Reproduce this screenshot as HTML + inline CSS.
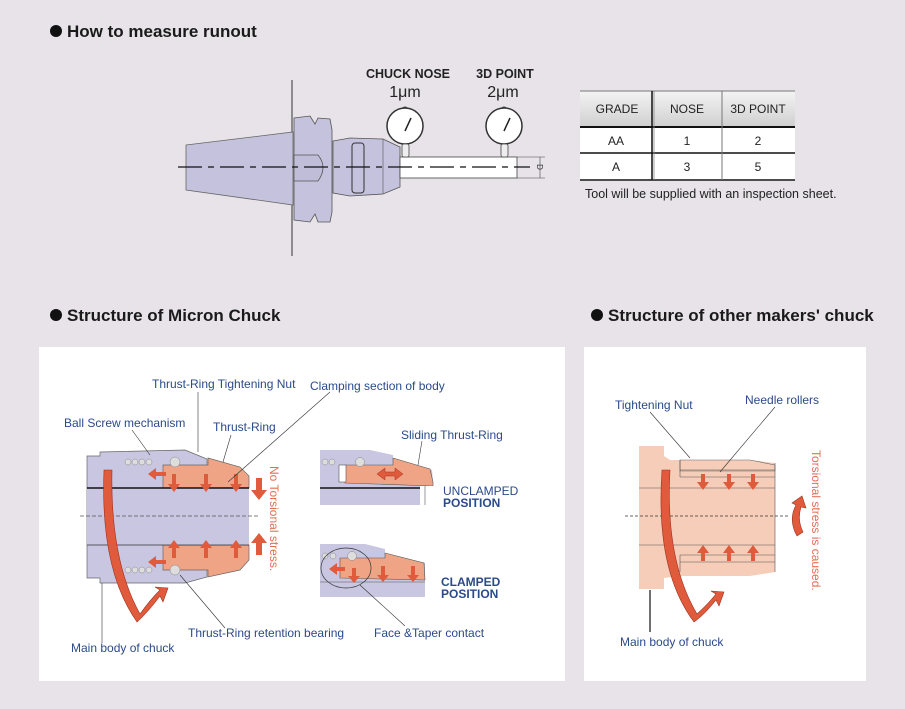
<!DOCTYPE html>
<html><head><meta charset="utf-8"><style>
body{margin:0;background:#e7e3e9;}
svg{display:block;font-family:"Liberation Sans",sans-serif;}
</style></head><body>
<svg width="905" height="709" viewBox="0 0 905 709" xmlns="http://www.w3.org/2000/svg">
<rect width="905" height="709" fill="#e7e3e9"/>
<!-- headings -->
<circle cx="56" cy="31" r="6" fill="#111"/>
<text x="67" y="37" font-size="17" font-weight="bold" fill="#1a1a1a">How to measure runout</text>
<circle cx="56" cy="315" r="6" fill="#111"/>
<text x="67" y="321" font-size="17" font-weight="bold" fill="#1a1a1a">Structure of Micron Chuck</text>
<circle cx="597" cy="315" r="6" fill="#111"/>
<text x="608" y="321" font-size="17" font-weight="bold" fill="#1a1a1a">Structure of other makers' chuck</text>

<!-- top diagram -->
<line x1="292" y1="80" x2="292" y2="256" stroke="#333" stroke-width="1"/>
<polygon points="186,145 293,132 293,205 186,190" fill="#c4c2dc" stroke="#666" stroke-width="0.8"/>
<path d="M294,118 L310,116 L315,124 L318,118 L330,119 L332,130 L332,212 L330,222 L318,222 L315,214 L310,222 L294,220 Z" fill="#c4c2dc" stroke="#555" stroke-width="0.8"/>
<path d="M294,155 L318,155 Q328,167 318,181 L294,181 Z" fill="#bfbdd8" stroke="#555" stroke-width="0.8"/>
<path d="M333,141 L350,138 L383,139 L400,147 L400,187 L383,194 L350,196 L333,193 Z" fill="#c4c2dc" stroke="#555" stroke-width="0.8"/>
<line x1="383" y1="139" x2="383" y2="194" stroke="#555" stroke-width="0.6"/>
<rect x="352" y="143" width="12" height="50" rx="3" fill="none" stroke="#333" stroke-width="1"/>
<rect x="400" y="157" width="117" height="21" fill="#fff" stroke="#444" stroke-width="0.8"/>
<line x1="178" y1="167" x2="530" y2="167" stroke="#111" stroke-width="1.2" stroke-dasharray="24,6,6,6"/>
<line x1="517" y1="157" x2="545" y2="157" stroke="#444" stroke-width="0.6"/>
<line x1="517" y1="178" x2="545" y2="178" stroke="#444" stroke-width="0.6"/>
<line x1="540" y1="157" x2="540" y2="178" stroke="#444" stroke-width="0.6"/>
<text x="537" y="167" font-size="8" transform="rotate(90 537 167)" text-anchor="middle" fill="#333">D</text>
<g>
<circle cx="405" cy="110" r="3" fill="#ddd" stroke="#444"/>
<circle cx="405" cy="126" r="18" fill="#fff" stroke="#333" stroke-width="1.5"/>
<line x1="405" y1="131" x2="411" y2="118" stroke="#222" stroke-width="1.5"/>
<rect x="402" y="144" width="7" height="13" rx="2" fill="#eee" stroke="#444" stroke-width="0.8"/>
<circle cx="504" cy="110" r="3" fill="#ddd" stroke="#444"/>
<circle cx="504" cy="126" r="18" fill="#fff" stroke="#333" stroke-width="1.5"/>
<line x1="504" y1="131" x2="510" y2="118" stroke="#222" stroke-width="1.5"/>
<rect x="501" y="144" width="7" height="13" rx="2" fill="#eee" stroke="#444" stroke-width="0.8"/>
</g>
<text x="408" y="78" font-size="12.5" font-weight="bold" text-anchor="middle" fill="#222">CHUCK NOSE</text>
<text x="405" y="97" font-size="16" text-anchor="middle" fill="#222">1μm</text>
<text x="505" y="78" font-size="12.5" font-weight="bold" text-anchor="middle" fill="#222">3D POINT</text>
<text x="503" y="97" font-size="16" text-anchor="middle" fill="#222">2μm</text>

<!-- table -->
<defs><linearGradient id="hg" x1="0" y1="0" x2="0" y2="1"><stop offset="0" stop-color="#f4f4f4"/><stop offset="1" stop-color="#cfcfcf"/></linearGradient></defs>
<rect x="580" y="91" width="215" height="36" fill="url(#hg)"/>
<rect x="580" y="127" width="215" height="54" fill="#fff"/>
<line x1="580" y1="91" x2="795" y2="91" stroke="#777" stroke-width="1"/>
<line x1="580" y1="127" x2="795" y2="127" stroke="#111" stroke-width="2"/>
<line x1="580" y1="153" x2="795" y2="153" stroke="#111" stroke-width="1.5"/>
<line x1="580" y1="180" x2="795" y2="180" stroke="#111" stroke-width="1.5"/>
<line x1="652" y1="91" x2="652" y2="180" stroke="#111" stroke-width="1.5"/>
<line x1="654" y1="91" x2="654" y2="180" stroke="#888" stroke-width="0.8"/>
<line x1="722" y1="91" x2="722" y2="180" stroke="#777" stroke-width="1"/>
<g font-size="12" fill="#222" text-anchor="middle">
<text x="617" y="113">GRADE</text><text x="687" y="113">NOSE</text><text x="758" y="113">3D POINT</text>
<text x="616" y="145">AA</text><text x="687" y="145">1</text><text x="758" y="145">2</text>
<text x="616" y="171">A</text><text x="687" y="171">3</text><text x="758" y="171">5</text>
</g>
<text x="585" y="198" font-size="12.5" fill="#222">Tool will be supplied with an inspection sheet.</text>

<!-- panels -->
<rect x="39" y="347" width="526" height="334" fill="#fff"/>
<rect x="584" y="347" width="282" height="334" fill="#fff"/>

<!-- micron main -->
<g stroke="#666" stroke-width="0.7">
<path d="M87,456 L100,456 L100,452 L185,450 L207,459 L207,577 L185,583 L100,583 L100,578 L87,578 Z" fill="#c8c6e0"/>
<path d="M163,465 L208,465 L208,458 L240,467 L249,476 L249,488 L163,488 Z" fill="#f0a486"/>
<path d="M163,545 L249,545 L249,560 L240,570 L208,577 L208,570 L163,570 Z" fill="#f0a486"/>
<rect x="87" y="488" width="162" height="57" fill="#c8c6e0" stroke="none"/>
</g>
<line x1="87" y1="488" x2="249" y2="488" stroke="#111" stroke-width="1.5"/>
<line x1="87" y1="545" x2="249" y2="545" stroke="#333" stroke-width="0.8"/>
<line x1="80" y1="516" x2="258" y2="516" stroke="#555" stroke-width="0.8" stroke-dasharray="4,2"/>
<g fill="#ddd" stroke="#888" stroke-width="0.5">
<circle cx="128" cy="462" r="3"/><circle cx="135" cy="462" r="3"/><circle cx="142" cy="462" r="3"/><circle cx="149" cy="462" r="3"/><circle cx="175" cy="462" r="5"/>
<circle cx="128" cy="570" r="3"/><circle cx="135" cy="570" r="3"/><circle cx="142" cy="570" r="3"/><circle cx="149" cy="570" r="3"/><circle cx="175" cy="570" r="5"/>
</g>
<g fill="#e05a3c">
<path d="M172,474 v10 h-4 l6,8 l6,-8 h-4 v-10z M204,474 v10 h-4 l6,8 l6,-8 h-4 v-10z M234,474 v10 h-4 l6,8 l6,-8 h-4 v-10z"/>
<path d="M172,558 v-10 h-4 l6,-8 l6,8 h-4 v10z M204,558 v-10 h-4 l6,-8 l6,8 h-4 v10z M234,558 v-10 h-4 l6,-8 l6,8 h-4 v10z"/>
<path d="M166,472 h-10 v-4 l-8,6 l8,6 v-4 h10z M166,560 h-10 v-4 l-8,6 l8,6 v-4 h10z"/>
<path d="M256,478 v12 h-5 l8,10 l8,-10 h-5 v-12z M256,555 v-12 h-5 l8,-10 l8,10 h-5 v12z"/>
<path d="M104,470 L112,470 Q110,560 140,614 Q150,600 160,590 L155,587 L168,588 L163,602 L160,596 Q148,612 137,622 Q100,570 104,470Z" stroke="#a03020" stroke-width="0.6"/>
</g>
<text x="270" y="466" font-size="12" fill="#e07055" transform="rotate(90 270 466)">No Torsional stress.</text>
<!-- small upper -->
<path d="M320,450 L370,450 L393,455 L393,458 L432,470 L433,482 L433,505 L320,505 Z" fill="#c8c6e0"/>
<path d="M345,465 L393,465 L393,458 L430,469 L433,482 L433,486 L345,483 Z" fill="#f0a486" stroke="#555" stroke-width="0.6"/>
<rect x="339" y="465" width="7" height="17" fill="#fff" stroke="#555" stroke-width="0.6"/>
<line x1="320" y1="488" x2="425" y2="488" stroke="#111" stroke-width="1.5"/>
<rect x="420" y="486" width="13" height="20" fill="#fff"/>
<line x1="425" y1="486" x2="425" y2="505" stroke="#555" stroke-width="0.6"/>
<g fill="#ddd" stroke="#888" stroke-width="0.5"><circle cx="325" cy="462" r="3"/><circle cx="332" cy="462" r="3"/><circle cx="360" cy="462" r="4.5"/></g>
<path d="M377,474 l8,-6 v4 h10 v-4 l8,6 l-8,6 v-4 h-10 v4z" fill="#e05a3c" stroke="#a03020" stroke-width="0.5"/>
<!-- small lower -->
<path d="M320,544 L365,544 L385,549 L385,553 L425,563 L425,597 L320,597 Z" fill="#c8c6e0"/>
<path d="M340,558 L385,558 L385,553 L424,563 L425,580 L340,578 Z" fill="#f0a486" stroke="#555" stroke-width="0.6"/>
<line x1="320" y1="582" x2="425" y2="582" stroke="#555" stroke-width="0.6"/>
<g fill="#ddd" stroke="#888" stroke-width="0.5"><circle cx="325" cy="556" r="3"/><circle cx="333" cy="556" r="3"/><circle cx="352" cy="556" r="4.5"/></g>
<g fill="#e05a3c"><path d="M352,568 v8 h-4 l6,7 l6,-7 h-4 v-8z M381,566 v9 h-4 l6,7 l6,-7 h-4 v-9z M411,566 v9 h-4 l6,7 l6,-7 h-4 v-9z M345,567 h-8 v-4 l-8,6 l8,6 v-4 h8z"/></g>
<ellipse cx="346" cy="568" rx="25" ry="20" fill="none" stroke="#333" stroke-width="0.7"/>
<!-- leader lines -->
<g stroke="#333" stroke-width="0.6" fill="none">
<line x1="198" y1="392" x2="198" y2="452"/>
<line x1="132" y1="430" x2="150" y2="455"/>
<line x1="231" y1="435" x2="223" y2="462"/>
<line x1="330" y1="392" x2="228" y2="482"/>
<line x1="180" y1="575" x2="225" y2="628"/>
<line x1="102" y1="583" x2="102" y2="643"/>
<line x1="422" y1="441" x2="418" y2="465"/>
<line x1="360" y1="585" x2="405" y2="626"/>
</g>
<g font-size="12" fill="#2a4a8a">
<text x="152" y="388">Thrust-Ring Tightening Nut</text>
<text x="310" y="390">Clamping section of body</text>
<text x="64" y="427">Ball Screw mechanism</text>
<text x="213" y="431">Thrust-Ring</text>
<text x="401" y="439">Sliding Thrust-Ring</text>
<text x="443" y="495">UNCLAMPED</text>
<text x="443" y="507" font-weight="bold">POSITION</text>
<text x="441" y="586" font-weight="bold">CLAMPED</text>
<text x="441" y="598" font-weight="bold">POSITION</text>
<text x="188" y="637">Thrust-Ring retention bearing</text>
<text x="374" y="637">Face &amp;Taper contact</text>
<text x="71" y="652">Main body of chuck</text>
</g>

<!-- other maker -->
<path d="M639,446 L664,446 L664,456 L670,460 L750,460 L775,463 L775,572 L750,576 L680,576 L664,578 L664,589 L639,589 Z" fill="#f6cdb8"/>
<path d="M680,460 L750,460 L775,465 L775,471 L680,471 Z" fill="#f6cdb8" stroke="#666" stroke-width="0.6"/>
<g stroke="#555" stroke-width="0.6" fill="none">
<line x1="680" y1="470" x2="775" y2="470"/><line x1="680" y1="477" x2="775" y2="477"/>
<line x1="680" y1="460" x2="680" y2="477"/>
<line x1="680" y1="555" x2="775" y2="555"/><line x1="680" y1="562" x2="775" y2="562"/>
<line x1="680" y1="555" x2="680" y2="572"/>
<line x1="639" y1="488" x2="775" y2="488"/><line x1="639" y1="545" x2="775" y2="545"/>
<line x1="775" y1="463" x2="775" y2="572"/>
</g>
<line x1="625" y1="516" x2="790" y2="516" stroke="#333" stroke-width="0.8" stroke-dasharray="3,2"/>
<g fill="#e05a3c">
<path d="M701,474 v8 h-4 l6,8 l6,-8 h-4 v-8z M727,474 v8 h-4 l6,8 l6,-8 h-4 v-8z M751,474 v8 h-4 l6,8 l6,-8 h-4 v-8z"/>
<path d="M701,561 v-8 h-4 l6,-8 l6,8 h-4 v8z M727,561 v-8 h-4 l6,-8 l6,8 h-4 v8z M751,561 v-8 h-4 l6,-8 l6,8 h-4 v8z"/>
<path d="M662,470 L670,470 Q665,560 697,614 Q708,604 716,594 L711,591 L724,592 L719,606 L716,600 Q704,615 694,622 Q655,570 662,470Z" stroke="#a03020" stroke-width="0.6"/>
<path d="M797,536 Q788,520 796,505 L792,503 L802,496 L806,508 L801,507 Q797,520 803,532 Z" stroke="#a03020" stroke-width="0.6"/>
</g>
<text x="812" y="450" font-size="12" fill="#e07055" transform="rotate(90 812 450)">Torsional stress is caused.</text>
<g stroke="#333" stroke-width="0.6">
<line x1="650" y1="412" x2="690" y2="458"/>
<line x1="775" y1="407" x2="720" y2="472"/>
</g>
<line x1="650" y1="590" x2="650" y2="632" stroke="#222" stroke-width="1.3"/>
<g font-size="12" fill="#2a4a8a">
<text x="615" y="409">Tightening Nut</text>
<text x="745" y="404">Needle rollers</text>
<text x="620" y="646">Main body of chuck</text>
</g>
</svg>
</body></html>
